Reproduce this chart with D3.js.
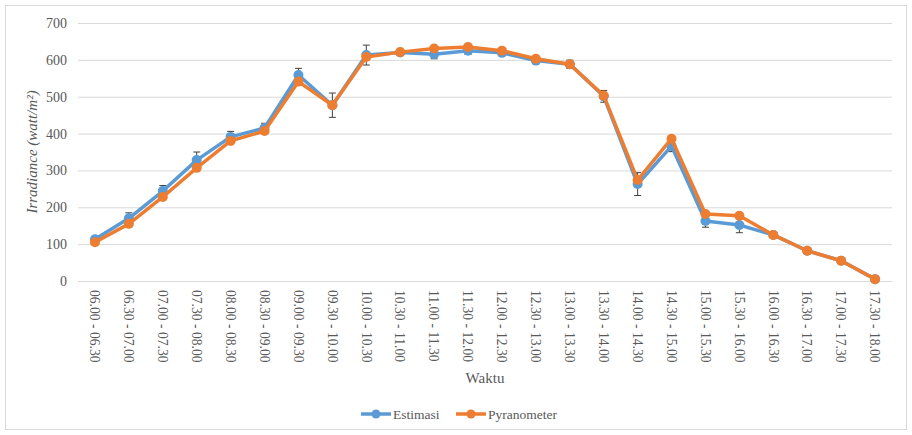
<!DOCTYPE html>
<html>
<head>
<meta charset="utf-8">
<script src="https://cdn.jsdelivr.net/npm/d3@7"></script>
</head>
<body style="margin:0;background:#fff">
<svg id="chart" width="912" height="435" style="display:block"></svg>
<script>
const categories = ["06.00 - 06.30","06.30 - 07.00","07.00 - 07.30","07.30 - 08.00","08.00 - 08.30","08.30 - 09.00","09.00 - 09.30","09.30 - 10.00","10.00 - 10.30","10.30 - 11.00","11.00 - 11.30","11.30 - 12.00","12.00 - 12.30","12.30 - 13.00","13.00 - 13.30","13.30 - 14.00","14.00 - 14.30","14.30 - 15.00","15.00 - 15.30","15.30 - 16.00","16.00 - 16.30","16.30 - 17.00","17.00 - 17.30","17.30 - 18.00"];
const estimasi = [113,170,244,328,391,415,559,477,613,620,615,625,619,598,588,501,263,366,163,152,125,82,55,5];
const estimasiErr = [6,15,15,22,15,13,18,33,27,8,12,10,5,6,11,16,31,15,17,21,5,3,3,2];
const pyranometer = [105,155,228,307,380,407,541,477,608,621,631,635,625,603,588,503,274,386,182,177,125,82,55,5];
const yTicks = [0,100,200,300,400,500,600,700];

const FONT = '"Liberation Serif"';
const svg = d3.select("#chart");
const x = d3.scaleBand().domain(categories).range([78, 892]);
const y = d3.scaleLinear().domain([0,700]).range([281, 23]);
const blue = "#5B9BD5", orange = "#ED7D31", txt = "#595959";

// border
svg.append("rect").attr("x",5.5).attr("y",5.5).attr("width",901).attr("height",424)
  .attr("fill","#fff").attr("stroke","#d9d9d9").attr("stroke-width",1);

// gridlines + y labels
const yAxis = d3.axisLeft(y).tickValues(yTicks).tickSize(-(892-78)).tickPadding(11);
const gy = svg.append("g").attr("transform","translate(78,0)").call(yAxis);
gy.select(".domain").remove();
gy.selectAll(".tick line").attr("stroke","#d9d9d9").attr("stroke-width",1);
gy.selectAll(".tick text").attr("fill",txt).style("font-family",FONT).style("font-size","14px");

// x axis labels
const xAxis = d3.axisBottom(x).tickSize(0).tickPadding(0);
const gx = svg.append("g").attr("transform","translate(0,281)").call(xAxis);
gx.select(".domain").remove();
gx.selectAll(".tick text")
  .attr("fill",txt).style("font-family",FONT).style("font-size","13.6px")
  .attr("text-anchor","start").attr("dy","0.35em").attr("x",0).attr("y",0)
  .attr("transform","translate(0,9) rotate(90)");

const cx = d => x(d) + x.bandwidth()/2;

// error bars
const eb = svg.append("g").attr("stroke","#404040").attr("stroke-width",1);
categories.forEach((c,i)=>{
  const xc = cx(c), y1 = y(estimasi[i]+estimasiErr[i]), y2 = y(estimasi[i]-estimasiErr[i]);
  eb.append("line").attr("x1",xc).attr("x2",xc).attr("y1",y1).attr("y2",y2);
  eb.append("line").attr("x1",xc-3.5).attr("x2",xc+3.5).attr("y1",y1).attr("y2",y1);
  eb.append("line").attr("x1",xc-3.5).attr("x2",xc+3.5).attr("y1",y2).attr("y2",y2);
});

function series(vals,color){
  const line = d3.line().x((d,i)=>cx(categories[i])).y(d=>y(d));
  svg.append("path").datum(vals).attr("d",line).attr("fill","none")
    .attr("stroke",color).attr("stroke-width",3.5).attr("stroke-linejoin","round").attr("stroke-linecap","round");
  svg.append("g").selectAll("circle").data(vals).join("circle")
    .attr("cx",(d,i)=>cx(categories[i])).attr("cy",d=>y(d)).attr("r",5).attr("fill",color);
}
series(estimasi, blue);
series(pyranometer, orange);

// axis titles
svg.append("text").attr("transform","translate(37,152) rotate(-90)").attr("text-anchor","middle")
  .attr("fill",txt).style("font-family",FONT).style("font-size","15px").style("font-style","italic")
  .text("Irradiance (watt/m²)");
svg.append("text").attr("x",485).attr("y",383).attr("text-anchor","middle")
  .attr("fill",txt).style("font-family",FONT).style("font-size","15px").text("Waktu");

// legend
const legend = [{name:"Estimasi",color:blue,x:361},{name:"Pyranometer",color:orange,x:456}];
const lg = svg.append("g");
legend.forEach(l=>{
  lg.append("line").attr("x1",l.x).attr("x2",l.x+30).attr("y1",414).attr("y2",414)
    .attr("stroke",l.color).attr("stroke-width",3.5);
  lg.append("circle").attr("cx",l.x+15).attr("cy",414).attr("r",4.5).attr("fill",l.color);
  lg.append("text").attr("x",l.x+32).attr("y",414).attr("dy","0.35em").attr("fill",txt)
    .style("font-family",FONT).style("font-size","13.5px").text(l.name);
});
</script>
</body>
</html>
